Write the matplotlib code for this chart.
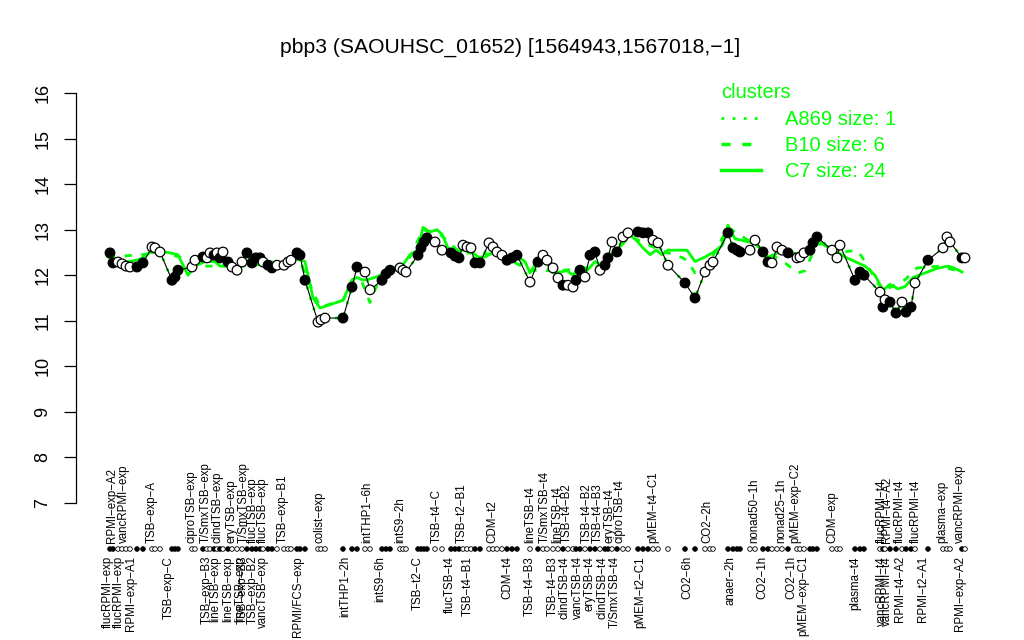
import matplotlib
matplotlib.use("Agg")
import matplotlib.pyplot as plt
from matplotlib.transforms import blended_transform_factory
from matplotlib.lines import Line2D

plt.rcParams['font.family'] = ['Liberation Sans', 'DejaVu Sans']

GREEN = '#00FF00'
title = "pbp3 (SAOUHSC_01652) [1564943,1567018,-1]"

# sample order position, expression value, filled marker (1) / open (0)
sample_pos = [110, 113, 118, 122, 126, 130, 137, 143, 152, 155, 160, 172, 175, 178,
              192, 195, 203, 207, 210, 214, 217, 220, 223, 228, 232, 237, 242, 247,
              252, 256, 260, 263, 268, 272, 277, 284, 288, 291, 297, 300, 305, 318,
              321, 325, 343, 352, 357, 365, 370, 382, 386, 390, 400, 403, 406, 418,
              421, 424, 427, 435, 442, 451, 455, 459, 463, 467, 471, 475, 480, 489,
              493, 497, 502, 507, 512, 517, 530, 538, 543, 547, 553, 558, 563, 568,
              573, 576, 580, 585, 590, 595, 600, 605, 608, 612, 617, 623, 628, 638,
              643, 648, 653, 658, 668, 685, 695, 705, 710, 713, 728, 733, 737, 740,
              750, 755, 763, 768, 772, 777, 782, 788, 797, 800, 804, 810, 813, 817,
              832, 837, 840, 855, 860, 864, 880, 883, 885, 890, 896, 902, 906, 911,
              915, 928, 943, 947, 950, 962, 965]
sample_expr = [12.49, 12.27, 12.29, 12.25, 12.20, 12.18, 12.18, 12.27, 12.62, 12.60, 12.51, 11.89, 11.96, 12.11,
               12.18, 12.33, 12.40, 12.38, 12.49, 12.44, 12.49, 12.38, 12.51, 12.29, 12.18, 12.11, 12.29, 12.49,
               12.27, 12.38, 12.38, 12.29, 12.22, 12.16, 12.22, 12.22, 12.29, 12.33, 12.49, 12.44, 11.89, 10.97,
               11.02, 11.06, 11.06, 11.74, 12.18, 12.07, 11.68, 11.89, 12.03, 12.11, 12.16, 12.11, 12.07, 12.44,
               12.60, 12.73, 12.82, 12.73, 12.55, 12.49, 12.42, 12.38, 12.66, 12.62, 12.60, 12.27, 12.27, 12.71,
               12.62, 12.51, 12.44, 12.33, 12.38, 12.44, 11.85, 12.29, 12.44, 12.33, 12.16, 11.94, 11.78, 11.78,
               11.74, 11.89, 12.11, 11.96, 12.44, 12.51, 12.11, 12.22, 12.38, 12.73, 12.51, 12.84, 12.93, 12.95,
               12.93, 12.93, 12.77, 12.71, 12.22, 11.83, 11.50, 12.07, 12.22, 12.29, 12.93, 12.60, 12.55, 12.51,
               12.55, 12.77, 12.51, 12.29, 12.27, 12.62, 12.55, 12.49, 12.38, 12.40, 12.49, 12.55, 12.71, 12.84,
               12.55, 12.38, 12.66, 11.89, 12.07, 12.00, 11.63, 11.30, 11.46, 11.41, 11.17, 11.41, 11.19, 11.30,
               11.83, 12.33, 12.60, 12.84, 12.73, 12.38, 12.38]
sample_filled = [1, 1, 0, 0, 0, 0, 1, 1, 0, 0, 0, 1, 1, 1,
                 0, 0, 1, 0, 0, 1, 0, 1, 0, 1, 0, 0, 0, 1,
                 1, 1, 1, 0, 1, 1, 0, 0, 0, 0, 1, 1, 1, 0,
                 0, 0, 1, 1, 1, 0, 0, 1, 1, 1, 0, 0, 0, 1,
                 1, 1, 1, 0, 0, 1, 1, 1, 0, 0, 0, 1, 1, 0,
                 0, 0, 0, 1, 1, 1, 0, 1, 0, 0, 0, 0, 1, 0,
                 0, 1, 1, 0, 1, 1, 0, 1, 1, 0, 1, 0, 0, 1,
                 1, 1, 0, 0, 0, 1, 1, 0, 0, 0, 1, 1, 1, 1,
                 0, 0, 1, 1, 0, 0, 0, 1, 0, 0, 0, 1, 1, 1,
                 0, 0, 0, 1, 1, 1, 0, 1, 0, 1, 1, 0, 1, 1,
                 0, 1, 0, 0, 0, 1, 0]

# cluster mean profiles
c7_pos = [108, 118, 130, 140, 150, 160, 168, 178, 188, 195, 205, 215, 220, 230, 235, 242, 250, 260,
          270, 280, 290, 298, 305, 313, 320, 343, 352, 357, 362, 367, 375, 385, 392, 402, 410, 418,
          423, 430, 437, 442, 448, 455, 462, 470, 478, 485, 493, 500, 510, 518, 525, 530, 537, 545,
          553, 560, 567, 573, 580, 587, 595, 603, 610, 617, 625, 630, 637, 643, 650, 656, 662, 668,
          675, 687, 695, 705, 713, 722, 728, 735, 745, 755, 760, 768, 775, 782, 790, 800, 810, 817,
          825, 835, 845, 855, 865, 875, 883, 890, 898, 905, 913, 925, 937, 948, 955, 962]
c7_expr = [12.40, 12.30, 12.30, 12.35, 12.50, 12.50, 12.50, 12.45, 12.00, 12.20, 12.30, 12.30, 12.20, 12.20,
           12.10, 12.20, 12.35, 12.30, 12.30, 12.25, 12.30, 12.35, 12.30, 11.50, 11.28, 11.45, 11.90, 11.95,
           11.90, 11.90, 11.95, 12.05, 12.15, 12.20, 12.45, 12.55, 13.05, 12.95, 13.00, 12.90, 12.60, 12.50,
           12.55, 12.55, 12.40, 12.40, 12.50, 12.45, 12.40, 12.40, 12.30, 12.05, 12.30, 12.35, 12.05, 12.07,
           12.10, 12.00, 12.20, 12.10, 12.30, 12.20, 12.45, 12.55, 12.75, 12.90, 12.75, 12.60, 12.45, 12.55,
           12.45, 12.55, 12.55, 12.55, 12.30, 12.40, 12.50, 12.65, 13.10, 12.80, 12.75, 12.70, 12.60, 12.40,
           12.45, 12.60, 12.50, 12.45, 12.60, 12.75, 12.65, 12.55, 12.40, 12.30, 12.20, 12.00, 11.67, 11.80,
           11.70, 11.75, 11.95, 12.05, 12.15, 12.20, 12.15, 12.07]
b10_pos = [108, 142, 160, 180, 200, 240, 300, 320, 343, 355, 362, 370, 380, 410, 423, 440, 460, 500,
           530, 560, 600, 630, 660, 683, 688, 695, 705, 728, 760, 785, 798, 805, 817, 840, 857, 862,
           883, 905, 917, 940, 962]
b10_expr = [12.40, 12.45, 12.50, 12.40, 12.20, 12.20, 12.30, 11.30, 11.45, 11.90, 11.85, 11.40, 11.95, 12.40,
            13.00, 12.90, 12.50, 12.45, 12.10, 12.10, 12.20, 12.85, 12.55, 12.38, 12.30, 12.05, 12.10, 13.05,
            12.60, 12.27, 12.05, 12.10, 12.70, 12.50, 12.55, 12.40, 11.65, 11.90, 12.16, 12.20, 12.07]

top_label_pos = [112, 124, 152, 192, 206, 218, 231, 244, 253, 263, 283, 320, 367, 400, 437, 462, 492,
                 530, 545, 557, 567, 587, 598, 609, 620, 653, 707, 754, 781, 795, 832, 882, 887, 900,
                 916, 942, 960]
top_label_text = ["RPMI-exp-A2", "vancRPMI-exp", "TSB-exp-A", "ciproTSB-exp", "T/SmxTSB-exp",
                  "clindTSB-exp", "eryTSB-exp", "T/SmxTSB-exp", "flucTSB-exp", "flucTSB-exp",
                  "TSB-exp-B1", "colist-exp", "intTHP1-6h", "intS9-2h", "TSB-t4-C", "TSB-t2-B1",
                  "CDM-t2", "lineTSB-t4", "T/SmxTSB-t4", "lineTSB-t4", "TSB-t4-B2", "TSB-t4-B2",
                  "TSB-t4-B3", "eryTSB-t4", "ciproTSB-t4", "pMEM-t4-C1", "CO2-2h", "nonad50-1h",
                  "nonad25-1h", "pMEM-exp-C2", "CDM-exp", "flucRPMI-t4", "RPMI-t4-A2", "flucRPMI-t4",
                  "flucRPMI-t4", "plasma-exp", "vancRPMI-exp"]
bottom_label_pos = [108, 119, 131, 169, 207, 215, 228, 240, 243, 253, 263, 298, 345, 380, 418, 450,
                    468, 507, 530, 553, 565, 578, 590, 603, 615, 640, 687, 730, 762, 791, 803, 855,
                    882, 887, 900, 923, 960]
bottom_label_text = ["flucRPMI-exp", "flucRPMI-exp", "RPMI-exp-A1", "TSB-exp-C", "TSB-exp-B3",
                     "lineTSB-exp", "lineTSB-exp", "lineTSB-exp", "TSB-exp-B3", "TSB-exp-B2",
                     "vancTSB-exp", "RPMI/FCS-exp", "intTHP1-2h", "intS9-6h", "TSB-t2-C", "flucTSB-t4",
                     "TSB-t4-B1", "CDM-t4", "TSB-t4-B3", "TSB-t4-B3", "clindTSB-t4", "vancTSB-t4",
                     "eryTSB-t4", "clindTSB-t4", "T/SmxTSB-t4", "pMEM-t2-C1", "CO2-6h", "anaer-2h",
                     "CO2-1h", "CO2-1h", "pMEM-exp-C1", "plasma-t4", "vancRPMI-t4", "vancRPMI-t4",
                     "RPMI-t4-A2", "RPMI-t2-A1", "RPMI-exp-A2"]

legend_title = "clusters"
legend_names = ["A869 size: 1", "B10 size: 6", "C7 size: 24"]
y_ticks = [7, 8, 9, 10, 11, 12, 13, 14, 15, 16]


def minus(s):
    return s.replace("-", "\u2212")


fig = plt.figure(figsize=(10.24, 6.4), dpi=100)
ax = fig.add_axes([76 / 1024, 120.6 / 640, 924 / 1024, 442.8 / 640])
ax.set_ylim(6.64, 16.36)
ax.set_xlim(min(sample_pos) - 34, max(sample_pos) + 35)

dotted = (0, (1, 3))
dashed = (0, (2.6, 3.4))
ax.plot(sample_pos, sample_expr, color=GREEN, lw=2, linestyle=dotted, zorder=1)
ax.plot(b10_pos, b10_expr, color=GREEN, lw=2, linestyle=dashed, zorder=1)
ax.plot(c7_pos, c7_expr, color=GREEN, lw=2, zorder=2)
ax.plot(sample_pos, sample_expr, color='black', lw=0.8, zorder=3)
face = ['black' if f else 'white' for f in sample_filled]
ax.scatter(sample_pos, sample_expr, s=48, c=face, edgecolors='black', linewidths=0.9, zorder=4)

# marker row + condition labels below the plot
trans = blended_transform_factory(ax.transData, fig.transFigure)
ax.scatter(sample_pos, [1 - 549 / 640] * len(sample_pos), s=11, c=face, edgecolors='black',
           linewidths=0.6, transform=trans, clip_on=False, zorder=4)
for x, t in zip(top_label_pos, top_label_text):
    ax.text(x, 1 - 543 / 640, minus(t), rotation=90, ha='center', va='bottom', fontsize=8.3,
            transform=trans, clip_on=False)
for x, t in zip(bottom_label_pos, bottom_label_text):
    ax.text(x, 1 - 556 / 640, minus(t), rotation=90, ha='center', va='top', fontsize=8.3,
            transform=trans, clip_on=False)

for sp in ['top', 'right', 'bottom']:
    ax.spines[sp].set_visible(False)
ax.spines['left'].set_bounds(y_ticks[0], y_ticks[-1])
ax.spines['left'].set_linewidth(0.9)
ax.set_xticks([])
ax.set_yticks(y_ticks)
ax.set_yticklabels([str(v) for v in y_ticks], rotation=90, va='center')
ax.tick_params(axis='y', length=8.6, width=0.9, labelsize=13, pad=9)

fig.text(510 / 1024, 1 - 47 / 640, minus(title), ha='center', va='center', fontsize=15.2)

handles = [Line2D([], [], color=GREEN, lw=2, linestyle=dotted),
           Line2D([], [], color=GREEN, lw=2.5, linestyle=dashed),
           Line2D([], [], color=GREEN, lw=2.5)]
leg = ax.legend(handles, legend_names, title=legend_title, loc='upper left',
                bbox_to_anchor=(721 / 1024, 1 - 83 / 640), bbox_transform=fig.transFigure,
                frameon=False, labelcolor=GREEN, fontsize=14.5, title_fontsize=14.5,
                alignment='left', handlelength=2.0, handletextpad=1.2, labelspacing=0.33,
                borderpad=0, borderaxespad=0)
leg.get_title().set_color(GREEN)
leg._legend_box.sep = 6

fig.savefig('out.png', dpi=100)
